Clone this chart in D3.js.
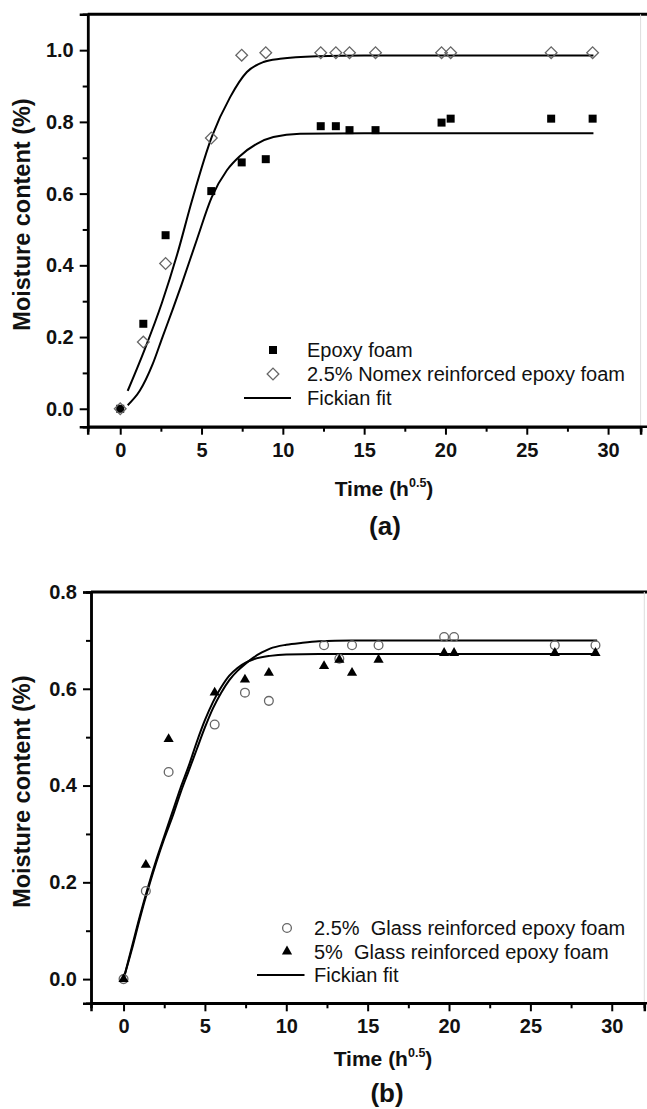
<!DOCTYPE html>
<html><head><meta charset="utf-8">
<script src="https://cdn.jsdelivr.net/npm/d3@7"></script>
<style>
body{margin:0;background:#fff;}
svg{display:block;}
text{font-family:"Liberation Sans",Arial,sans-serif;}
</style></head>
<body>
<svg id="c" width="647" height="1109"></svg>
<script>
// ---------- Data: panel (a) ----------
const timeA = [0, 1.42, 2.79, 5.6, 7.47, 8.95, 12.33, 13.26, 14.1, 15.7, 19.76, 20.32, 26.5, 29.05];
const epoxyFoam = [0, 0.237, 0.484, 0.607, 0.687, 0.696, 0.788, 0.788, 0.777, 0.777, 0.798, 0.809, 0.809, 0.809];
const nomexFoam = [0, 0.186, 0.405, 0.755, 0.986, 0.993, 0.993, 0.993, 0.993, 0.993, 0.993, 0.993, 0.993, 0.993];
// Fickian fit curves
const fitEpoxyX = [0.46, 1.2, 2.0, 2.6, 3.25, 3.76, 4.7, 5.63, 6.56, 7.37, 8.4, 9.42, 11.06, 15, 29.1];
const fitEpoxyY = [0.01, 0.05, 0.125, 0.2, 0.28, 0.345, 0.47, 0.59, 0.665, 0.705, 0.739, 0.758, 0.767, 0.768, 0.768];
const fitNomexX = [0.46, 1.5, 2.56, 3.5, 4.41, 5.63, 6.76, 7.79, 8.81, 9.83, 12.09, 15, 29.1];
const fitNomexY = [0.05, 0.165, 0.295, 0.43, 0.58, 0.758, 0.869, 0.939, 0.967, 0.976, 0.983, 0.985, 0.985];

// ---------- Data: panel (b) ----------
const timeB = [0, 1.37, 2.77, 5.6, 7.46, 8.93, 12.32, 13.26, 14.04, 15.67, 19.7, 20.31, 26.5, 29.0];
const glass25 = [0, 0.182, 0.428, 0.526, 0.592, 0.575, 0.690, 0.662, 0.690, 0.690, 0.707, 0.707, 0.690, 0.690];
const glass5 = [0, 0.236, 0.496, 0.592, 0.619, 0.633, 0.647, 0.660, 0.633, 0.660, 0.674, 0.674, 0.674, 0.674];
const fit25X = [0, 0.5, 1, 1.5, 2, 2.5, 3, 3.5, 4, 4.5, 5, 5.5, 6, 6.5, 7, 7.5, 8, 8.5, 9, 10, 11, 12, 14, 29.1];
const fit25Y = [0, 0.06, 0.125, 0.185, 0.24, 0.29, 0.335, 0.385, 0.43, 0.475, 0.52, 0.56, 0.592, 0.618, 0.637, 0.652, 0.665, 0.675, 0.683, 0.691, 0.695, 0.698, 0.70, 0.70];
const fit5X = [0, 0.5, 1, 1.5, 2, 2.5, 3, 3.5, 4, 4.5, 5, 5.5, 6, 6.5, 7, 7.5, 8, 9, 10, 12, 29.1];
const fit5Y = [0, 0.065, 0.13, 0.19, 0.245, 0.295, 0.345, 0.395, 0.44, 0.49, 0.535, 0.573, 0.603, 0.627, 0.643, 0.654, 0.661, 0.668, 0.671, 0.672, 0.672];

// ---------- Axis ticks ----------
const xMajor = [0, 5, 10, 15, 20, 25, 30];
const xMinor = [2.5, 7.5, 12.5, 17.5, 22.5, 27.5];
const yMajorA = [0, 0.2, 0.4, 0.6, 0.8, 1.0];
const yMinorA = [0.1, 0.3, 0.5, 0.7, 0.9];
const yMajorB = [0, 0.2, 0.4, 0.6, 0.8];
const yMinorB = [0.1, 0.3, 0.5, 0.7];

const legendA = ["Epoxy foam", "2.5% Nomex reinforced epoxy foam", "Fickian fit"];
const legendB = ["2.5%\u00a0 Glass reinforced epoxy foam", "5%\u00a0 Glass reinforced epoxy foam", "Fickian fit"];

const svg = d3.select("#c");

function panel(cfg) {
  const g = svg.append("g");
  const x = d3.scaleLinear().domain([-2, 32]).range([cfg.left, cfg.right]);
  const y = d3.scaleLinear().domain(cfg.ydom).range([cfg.bottom, cfg.top]);

  // frame
  g.append("line").attr("x1", cfg.left).attr("x2", 647).attr("y1", cfg.top).attr("y2", cfg.top)
    .attr("stroke", "#000").attr("stroke-width", 3);
  g.append("line").attr("x1", cfg.right).attr("x2", cfg.right).attr("y1", cfg.top).attr("y2", cfg.bottom)
    .attr("stroke", "#ddd").attr("stroke-width", 1);

  const xAx = d3.axisBottom(x).tickValues(xMajor).tickSize(8).tickFormat(d3.format("d"));
  g.append("g").attr("transform", `translate(0,${cfg.bottom})`).call(xAx)
    .selectAll(".tick text").attr("y", 16);
  const xMin = d3.axisBottom(x).tickValues(xMinor).tickSize(5).tickFormat("");
  g.append("g").attr("transform", `translate(0,${cfg.bottom})`).call(xMin);

  const yAx = d3.axisLeft(y).tickValues(cfg.yMajor).tickSize(8).tickFormat(d3.format(".1f"));
  g.append("g").attr("transform", `translate(${cfg.left},0)`).call(yAx)
    .selectAll(".tick text").attr("x", -14);
  const yMin = d3.axisLeft(y).tickValues(cfg.yMinor).tickSize(5).tickFormat("");
  g.append("g").attr("transform", `translate(${cfg.left},0)`).call(yMin);

  g.selectAll(".domain").attr("stroke", "#000").attr("stroke-width", 2.5);
  g.selectAll(".tick line").attr("stroke", "#000").attr("stroke-width", 2);
  g.selectAll(".tick text").attr("font-size", 20).attr("font-weight", "bold")
    .attr("font-family", "Liberation Sans, Arial, sans-serif").attr("fill", "#111");
  g.append("line").attr("x1", cfg.left).attr("x2", 647).attr("y1", cfg.bottom).attr("y2", cfg.bottom)
    .attr("stroke", "#000").attr("stroke-width", 2.5);

  // fit curves
  const line = d3.line().x(d => x(d[0])).y(d => y(d[1])).curve(d3.curveMonotoneX);
  cfg.fits.forEach(f => {
    g.append("path").datum(f).attr("d", line).attr("fill", "none")
      .attr("stroke", "#000").attr("stroke-width", 2);
  });

  cfg.series.forEach(s => {
    const sym = d3.symbol().type(s.type).size(s.size);
    g.selectAll(null).data(s.pts).join("path")
      .attr("d", sym)
      .attr("transform", d => `translate(${x(d[0])},${y(d[1])})${s.rot ? " rotate(45)" : ""}`)
      .attr("fill", s.fill).attr("stroke", s.stroke).attr("stroke-width", s.sw);
  });

  // legend
  const lg = g.append("g");
  cfg.legend.forEach((t, i) => {
    const ly = cfg.legY + i * cfg.legDy;
    if (i < 2) {
      const s = cfg.series[i];
      lg.append("path").attr("d", d3.symbol().type(s.type).size(s.size))
        .attr("transform", `translate(${cfg.legMx},${ly})${s.rot ? " rotate(45)" : ""}`)
        .attr("fill", s.fill).attr("stroke", s.stroke).attr("stroke-width", s.sw);
    } else {
      lg.append("line").attr("x1", cfg.legL1).attr("x2", cfg.legL2).attr("y1", ly).attr("y2", ly)
        .attr("stroke", "#000").attr("stroke-width", 2);
    }
    lg.append("text").attr("x", cfg.legTx).attr("y", ly + 7).attr("font-size", 20).attr("fill", "#111").text(t);
  });

  // axis titles
  const xt = g.append("text").attr("x", cfg.xtX).attr("y", cfg.xtY).attr("text-anchor", "middle")
    .attr("font-size", 21).attr("font-weight", "bold").attr("fill", "#111");
  xt.append("tspan").text("Time (h");
  xt.append("tspan").attr("font-size", 12.5).attr("dy", -9).text("0.5");
  xt.append("tspan").attr("dy", 9).text(")");

  g.append("text").attr("transform", `translate(${cfg.ytX},${(cfg.top + cfg.bottom) / 2 - 6}) rotate(-90)`)
    .attr("text-anchor", "middle").attr("font-size", 23.5).attr("font-weight", "bold").attr("fill", "#111")
    .text("Moisture content (%)");

  g.append("text").attr("x", cfg.labX).attr("y", cfg.labY).attr("text-anchor", "middle")
    .attr("font-size", 26).attr("font-weight", "bold").attr("fill", "#111").text(cfg.label);
}

const zipPts = (xs, ys) => xs.map((v, i) => [v, ys[i]]);

panel({
  left: 87.7, right: 640.6, top: 14.3, bottom: 426.7, ydom: [-0.05, 1.1],
  yMajor: yMajorA, yMinor: yMinorA,
  fits: [zipPts(fitEpoxyX, fitEpoxyY), zipPts(fitNomexX, fitNomexY)],
  series: [
    { pts: zipPts(timeA, epoxyFoam), type: d3.symbolSquare, size: 64, fill: "#000", stroke: "none", sw: 0, rot: false },
    { pts: zipPts(timeA, nomexFoam), type: d3.symbolSquare, size: 68, fill: "none", stroke: "#666", sw: 1.3, rot: true }
  ],
  legend: legendA, legY: 350, legDy: 24, legMx: 273, legL1: 244, legL2: 291, legTx: 307,
  xtX: 384, xtY: 496, ytX: 30, labX: 385, labY: 535, label: "(a)"
});

panel({
  left: 91, right: 644.3, top: 592, bottom: 1003.3, ydom: [-0.05, 0.8],
  yMajor: yMajorB, yMinor: yMinorB,
  fits: [zipPts(fit25X, fit25Y), zipPts(fit5X, fit5Y)],
  series: [
    { pts: zipPts(timeB, glass25), type: d3.symbolCircle, size: 60, fill: "none", stroke: "#666", sw: 1.3, rot: false },
    { pts: zipPts(timeB, glass5), type: d3.symbolTriangle, size: 45, fill: "#000", stroke: "none", sw: 0, rot: false }
  ],
  legend: legendB, legY: 928, legDy: 23.5, legMx: 287, legL1: 257, legL2: 304.5, legTx: 314,
  xtX: 383, xtY: 1065.5, ytX: 30, labX: 387, labY: 1102, label: "(b)"
});
</script>
</body></html>
